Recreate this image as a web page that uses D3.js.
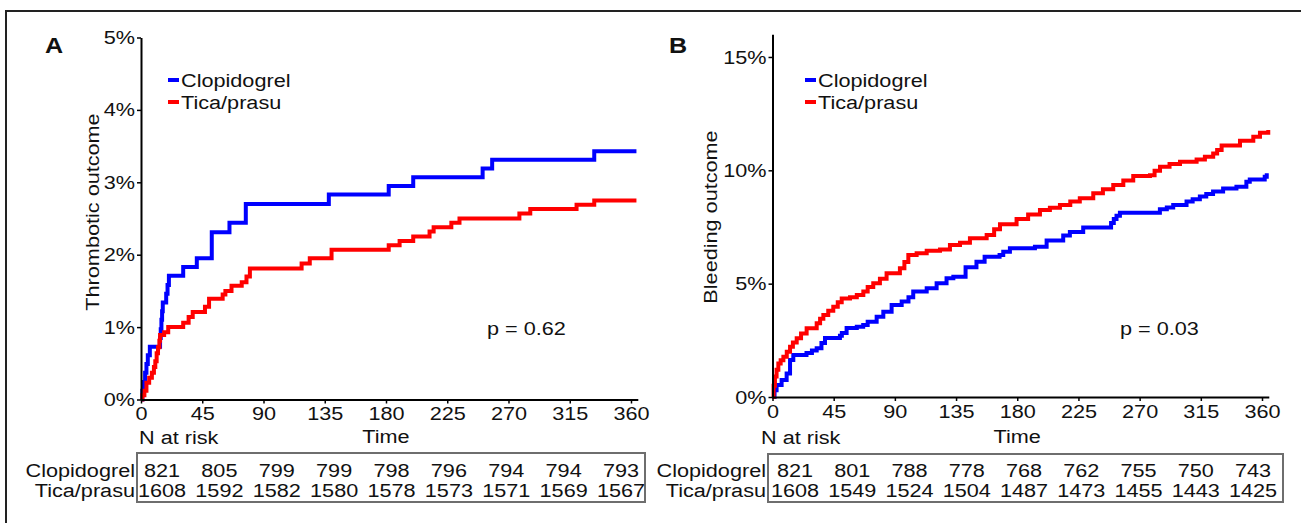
<!DOCTYPE html>
<html><head><meta charset="utf-8">
<script src="https://cdn.jsdelivr.net/npm/d3@7"></script>
<style>
body{margin:0;background:#fff}
text{font-family:"Liberation Sans",Arial,Helvetica,sans-serif;fill:#111}
</style>
</head><body>
<svg id="c" width="1301" height="523"></svg>
<script>
// ---------- data ----------
const timeTicks = [0,45,90,135,180,225,270,315,360];
const thromboTicks = [0,1,2,3,4,5];
const bleedTicks = [0,5,10,15];
const seriesNames = ["Clopidogrel","Tica/prasu"];
const seriesColors = ["#0000ff","#ff0000"];

// Panel A: thrombotic outcome (%), step curves
const thrombClopT = [0,1,2,3,4,5,6.5,14,14.5,15,15.5,16,18.5,19.5,20.5,31,41,52,65,77,138,182,200,251,258,333,364];
const thrombClopV = [0,0.12,0.24,0.37,0.49,0.61,0.73,0.85,0.97,1.10,1.22,1.34,1.46,1.58,1.71,1.83,1.95,2.31,2.44,2.70,2.83,2.95,3.07,3.19,3.31,3.43,3.43];
const thrombTicaT = [0,1,2.5,4,6,8,9.5,10.5,11.5,12.5,13.5,14,17,20,31,35,38,47,50,60,62,66.5,74,77.5,80,118,124,140,182,190,200,212,215,228,234,278,286,320,333,364];
const thrombTicaV = [0,0.06,0.12,0.23,0.30,0.37,0.45,0.53,0.64,0.72,0.81,0.89,0.93,1.00,1.06,1.14,1.21,1.28,1.39,1.45,1.50,1.57,1.62,1.70,1.81,1.88,1.95,2.07,2.13,2.19,2.25,2.32,2.38,2.44,2.50,2.57,2.63,2.69,2.75,2.75];

// Panel B: bleeding outcome (%), step curves
const bleedClopT = [0,1.5,3,6.7,10.4,12.9,15.3,25,29,32.5,36,38.6,49.6,51,54.5,62,66.7,70,76.6,81.5,87.6,95,100,103.5,113.4,120.7,128,133,142,150,156,167,169.7,174.6,193,201.6,213.8,218.7,228.5,249,251,253,255.5,282.5,284.9,290,294.7,304.5,309,314.3,319,324,331.4,341.2,348.5,351,362,363.5];
const bleedClopV = [0,0.30,0.53,0.75,1.04,1.63,1.85,1.94,2.05,2.15,2.38,2.60,2.70,2.82,3.04,3.10,3.18,3.32,3.54,3.76,4.06,4.21,4.40,4.65,4.80,5.02,5.24,5.31,5.72,5.97,6.19,6.26,6.41,6.56,6.63,6.90,7.12,7.28,7.48,7.68,7.85,8.00,8.13,8.13,8.28,8.36,8.47,8.62,8.72,8.84,8.95,9.06,9.20,9.28,9.50,9.60,9.72,9.87];
const bleedTicaT = [0,0.8,1.8,3,4.3,6,8,10.5,12.9,15,17.8,21,25.1,32.5,35,37.4,41,44.7,48,50.9,57,62,66.8,70,74.1,79,83.9,93.7,97,99.9,106,113.4,123.2,130.5,137.9,145.2,157.5,163,167.3,179.5,188,196.7,204,211.4,219,226,235.9,243,250.6,258,265.3,277.6,281,285,292,299.7,311.9,318,324.1,327,330.3,343.8,353.6,358.5,364.6];
const bleedTicaV = [0,0.50,0.90,1.20,1.48,1.62,1.78,2.00,2.22,2.40,2.59,2.80,3.03,3.25,3.45,3.62,3.80,3.98,4.18,4.35,4.40,4.50,4.65,4.85,5.02,5.22,5.46,5.68,5.95,6.26,6.34,6.45,6.51,6.70,6.80,7.00,7.15,7.40,7.62,7.85,8.05,8.25,8.35,8.47,8.62,8.77,8.99,9.17,9.35,9.55,9.75,9.78,9.98,10.16,10.28,10.38,10.48,10.60,10.74,10.90,11.10,11.30,11.48,11.66,11.78];

// Numbers at risk
const riskAClop = [821,805,799,799,798,796,794,794,793];
const riskATica = [1608,1592,1582,1580,1578,1573,1571,1569,1567];
const riskBClop = [821,801,788,778,768,762,755,750,743];
const riskBTica = [1608,1549,1524,1504,1487,1473,1455,1443,1425];

// ---------- drawing ----------
const SX = 1.14, FS = 19;
const svg = d3.select("#c");

// figure frame (left + top)
svg.append("path").attr("d","M6,523V11H1301").attr("fill","none").attr("stroke","#222").attr("stroke-width",2);

function T(g,x,y,s,o={}){
  return g.append("text")
    .attr("transform",`translate(${x},${y})${o.rot?` rotate(${o.rot})`:""} scale(${SX},1)`)
    .attr("text-anchor",o.anchor||"start")
    .attr("font-size",o.size||FS)
    .attr("font-weight",o.weight||null)
    .text(s);
}

const panels = [
  {letter:"A", lx:45, title:"Thrombotic outcome", titleX:99, titleY:212,
   x0:141, x1:637.8, y0:399.5, y1:37.5, ymax:5, yticks:thromboTicks, xpad:2.7,
   curves:[d3.zip(thrombClopT,thrombClopV), d3.zip(thrombTicaT,thrombTicaV)],
   legX:168, p:"p = 0.62", px:487,
   nrX:139, box:[137,453,645,502], colR:[162,621], risk:[riskAClop,riskATica]},
  {letter:"B", lx:669, title:"Bleeding outcome", titleX:716.5, titleY:217,
   x0:772.5, x1:1268.8, y0:397, y1:34.3, ymax:16, yticks:bleedTicks, xpad:4,
   curves:[d3.zip(bleedClopT,bleedClopV), d3.zip(bleedTicaT,bleedTicaV)],
   legX:805, p:"p = 0.03", px:1120,
   nrX:761, box:[768,454,1283,502], colR:[795,1253], risk:[riskBClop,riskBTica]}
];

panels.forEach(P=>{
  const g = svg.append("g");
  const x = d3.scaleLinear().domain([0,365]).range([P.x0,P.x1]);
  const y = d3.scaleLinear().domain([0,P.ymax]).range([P.y0,P.y1]);

  // curves
  const line = d3.line().x(d=>x(d[0])).y(d=>y(d[1])).curve(d3.curveStepAfter);
  P.curves.forEach((c,i)=>{
    g.append("path").attr("d",line(c)).attr("fill","none")
      .attr("stroke",seriesColors[i]).attr("stroke-width",4)
      .attr("stroke-linejoin","miter");
  });

  // axes
  const xa = g.append("g").attr("transform",`translate(0,${y(0)})`)
    .call(d3.axisBottom(x).tickValues(timeTicks).tickSize(4).tickSizeOuter(0).tickPadding(P.xpad));
  const ya = g.append("g").attr("transform",`translate(${P.x0},0)`)
    .call(d3.axisLeft(y).tickValues(P.yticks).tickFormat(d=>d+"%").tickSize(4).tickSizeOuter(0).tickPadding(1));
  [xa,ya].forEach(a=>{
    a.attr("font-size",FS);
    a.select(".domain").attr("stroke","#000").attr("stroke-width",2);
    a.selectAll(".tick line").attr("stroke","#000").attr("stroke-width",1.5);
    a.selectAll("text").attr("transform",`scale(${SX},1)`);
  });
  ya.selectAll("text").attr("x",-6/SX);

  // panel letter and axis title
  T(g,P.lx,53,P.letter,{size:22,weight:"bold"});
  T(g,P.titleX,P.titleY,P.title,{rot:-90,anchor:"middle"});

  // legend
  seriesNames.forEach((s,i)=>{
    const yy = 80 + i*22;
    g.append("line").attr("x1",P.legX).attr("x2",P.legX+11).attr("y1",yy).attr("y2",yy)
      .attr("stroke",seriesColors[i]).attr("stroke-width",4);
    T(g,P.legX+13,yy+7,s);
  });

  // p value
  T(g,P.px,335,P.p);

  // labels under axis
  T(g,P.nrX,444,"N at risk");
  T(g,x(180),443,"Time",{anchor:"middle"});

  // risk table
  const [bl,bt,br,bb] = P.box;
  g.append("rect").attr("x",bl).attr("y",bt).attr("width",br-bl).attr("height",bb-bt)
    .attr("fill","none").attr("stroke","#6e6e6e").attr("stroke-width",2);
  const col = d3.scalePoint().domain(d3.range(9)).range(P.colR);
  seriesNames.forEach((s,i)=>{
    const yy = 477 + i*20;
    T(g,bl-2,yy,s,{anchor:"end"});
    P.risk[i].forEach((v,j)=>T(g,col(j),yy,v,{anchor:"middle"}));
  });
});
</script>
</body></html>
